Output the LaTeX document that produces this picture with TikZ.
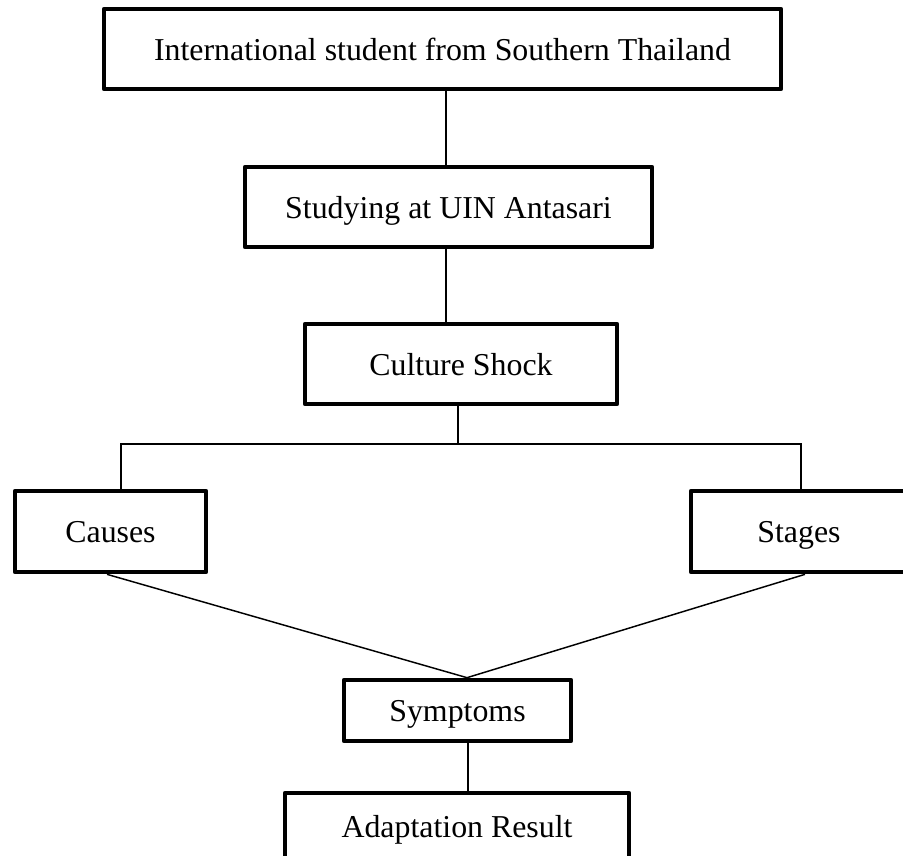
\documentclass[tikz,border=0pt]{standalone}
\usepackage{fontspec}
\setmainfont{Liberation Serif}
\begin{document}
\begin{tikzpicture}[x=0.75pt,y=-0.75pt,
  box/.style={draw, line width=3.5pt, line join=round, inner sep=0pt,
    text height=17.2pt, text depth=0pt, align=center,
    font=\fontsize{23.9pt}{28pt}\selectfont},
  link/.style={line width=1.1pt}]
\useasboundingbox (0,0) rectangle (903,856);
\clip (0,0) rectangle (903,856);
\node[box, minimum width=507.75pt, minimum height=60pt] (top) at (442.5,49) {International student from Southern Thailand};
\node[box, minimum width=305.25pt, minimum height=60pt] (study) at (448.5,207) {Studying at UIN Antasari};
\node[box, minimum width=234pt, minimum height=60pt] (culture) at (461,364) {Culture Shock};
\node[box, minimum width=143.25pt, minimum height=60.75pt] (causes) at (110.5,531.5) {Causes};
\node[box, minimum width=162pt, minimum height=60.75pt] (stages) at (799,531.5) {Stages};
\node[box, minimum width=170.25pt, minimum height=45.75pt] (symptoms) at (457.5,710.5) {Symptoms};
\node[box, minimum width=258pt, minimum height=49.5pt] (adapt) at (457,826) {Adaptation Result};
\coordinate (x1) at (446,0);
\coordinate (x2) at (458,0);
\coordinate (bus) at (458,444);
\coordinate (busL) at (121,444);
\coordinate (busR) at (801,444);
\coordinate (xc) at (107,0);
\coordinate (xs) at (805,0);
\coordinate (xm) at (467,0);
\coordinate (x3) at (468,0);
\draw[link] (top.south -| x1) -- (study.north -| x1);
\draw[link] (study.south -| x1) -- (culture.north -| x1);
\draw[link] (culture.south -| x2) -- (bus);
\draw[link] (busL |- causes.north) -- (busL) -- (bus) -- (busR) -- (busR |- stages.north);
\draw[link] (causes.south -| xc) -- (symptoms.north -| xm) -- (stages.south -| xs);
\draw[link] (symptoms.south -| x3) -- (adapt.north -| x3);
\end{tikzpicture}
\end{document}
